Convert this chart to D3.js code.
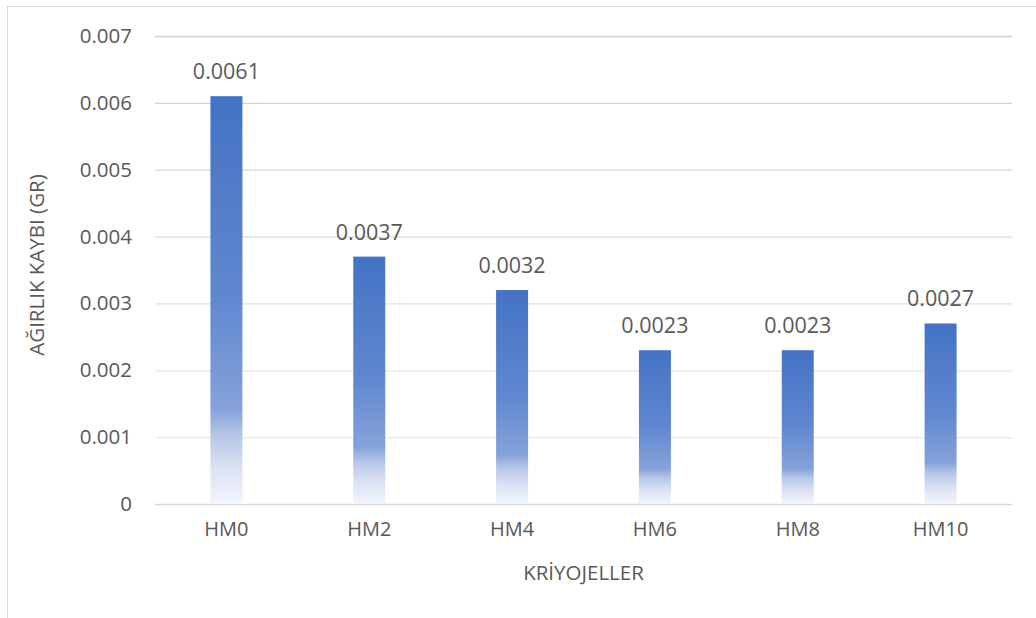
<!DOCTYPE html>
<html>
<head>
<meta charset="utf-8">
<script src="https://cdn.jsdelivr.net/npm/d3@7"></script>
<style>
  html, body { margin: 0; padding: 0; background: #fff; }
  svg { display: block; }
  text { font-family: "Open Sans", "Noto Sans", sans-serif; fill: #595959; }
</style>
</head>
<body>
<svg id="chart" width="1036" height="618"></svg>
<script>
// Weight loss per cryogel sample
const categories = ["HM0", "HM2", "HM4", "HM6", "HM8", "HM10"];
const values = [0.0061, 0.0037, 0.0032, 0.0023, 0.0023, 0.0027];
const yTicks = [0, 0.001, 0.002, 0.003, 0.004, 0.005, 0.006, 0.007];
const yTitle = "AĞIRLIK KAYBI (GR)";
const xTitle = "KRİYOJELLER";

const svg = d3.select("#chart");
const W = 1036, H = 618;
const plot = { left: 155, right: 1012, top: 36, bottom: 504 };

// Chart area frame
svg.append("rect")
  .attr("x", 7.5).attr("y", 6.5)
  .attr("width", W + 10).attr("height", H + 10)
  .attr("fill", "#fff").attr("stroke", "#d9d9d9").attr("stroke-width", 1);

const x = d3.scaleBand()
  .domain(categories)
  .range([plot.left, plot.right])
  .paddingInner(0.776)
  .paddingOuter(0.388);

const y = d3.scaleLinear()
  .domain([0, 0.007])
  .range([plot.bottom, plot.top]);

// Vertical gradient fill for the bars: solid blue at the top, fading out near the base
const defs = svg.append("defs");
const grad = defs.append("linearGradient")
  .attr("id", "barFill")
  .attr("x1", 0).attr("y1", 0).attr("x2", 0).attr("y2", 1);
[
  [0, "#4472c4"],
  [0.5, "#6088d0"],
  [0.77, "#86a2d9"],
  [0.83, "#b5c6e7"],
  [0.91, "#dae2f3"],
  [1, "#f2f5fb"]
].forEach(([o, c]) => grad.append("stop").attr("offset", o).attr("stop-color", c));

// Horizontal gridlines (lighter toward the base)
const gridColor = d3.scaleLinear().domain([0, 0.007]).range(["#ececec", "#cfcfcf"]);
const yAxis = d3.axisLeft(y)
  .tickValues(yTicks)
  .tickSize(-(plot.right - plot.left))
  .tickPadding(23)
  .tickFormat(d => d === 0 ? "0" : d3.format(".3f")(d));

const gy = svg.append("g")
  .attr("transform", `translate(${plot.left},0)`)
  .call(yAxis);
gy.select(".domain").remove();
gy.selectAll(".tick line")
  .attr("stroke", d => d === 0 ? "#d9d9d9" : gridColor(d))
  .attr("stroke-width", d => d === 0 ? 1.5 : 1.3);
gy.selectAll(".tick text")
  .attr("font-size", 20.5)
  .attr("fill", "#595959")
  .style("font-family", "'Open Sans', sans-serif");

// Bars
svg.append("g").selectAll("rect")
  .data(values)
  .join("rect")
  .attr("x", (d, i) => x(categories[i]))
  .attr("y", d => y(d))
  .attr("width", x.bandwidth())
  .attr("height", d => y(0) - y(d))
  .attr("fill", "url(#barFill)");

// Value labels
svg.append("g").selectAll("text")
  .data(values)
  .join("text")
  .attr("x", (d, i) => x(categories[i]) + x.bandwidth() / 2)
  .attr("y", d => y(d) - 17)
  .attr("text-anchor", "middle")
  .attr("font-size", 21.5)
  .attr("fill", "#404040")
  .text(d => d3.format(".4f")(d));

// Category axis
const xAxis = d3.axisBottom(x).tickSize(0).tickPadding(18);
const gx = svg.append("g")
  .attr("transform", `translate(0,${plot.bottom})`)
  .call(xAxis);
gx.select(".domain").remove();
gx.selectAll(".tick text")
  .attr("font-size", 20)
  .attr("fill", "#595959")
  .style("font-family", "'Open Sans', sans-serif");

// Axis titles
svg.append("text")
  .attr("transform", `translate(44,${(plot.top + plot.bottom) / 2 - 5}) rotate(-90)`)
  .attr("text-anchor", "middle")
  .attr("font-size", 20.5)
  .text(yTitle);

svg.append("text")
  .attr("x", (plot.left + plot.right) / 2)
  .attr("y", 580)
  .attr("text-anchor", "middle")
  .attr("font-size", 20.5)
  .text(xTitle);
</script>
</body>
</html>
